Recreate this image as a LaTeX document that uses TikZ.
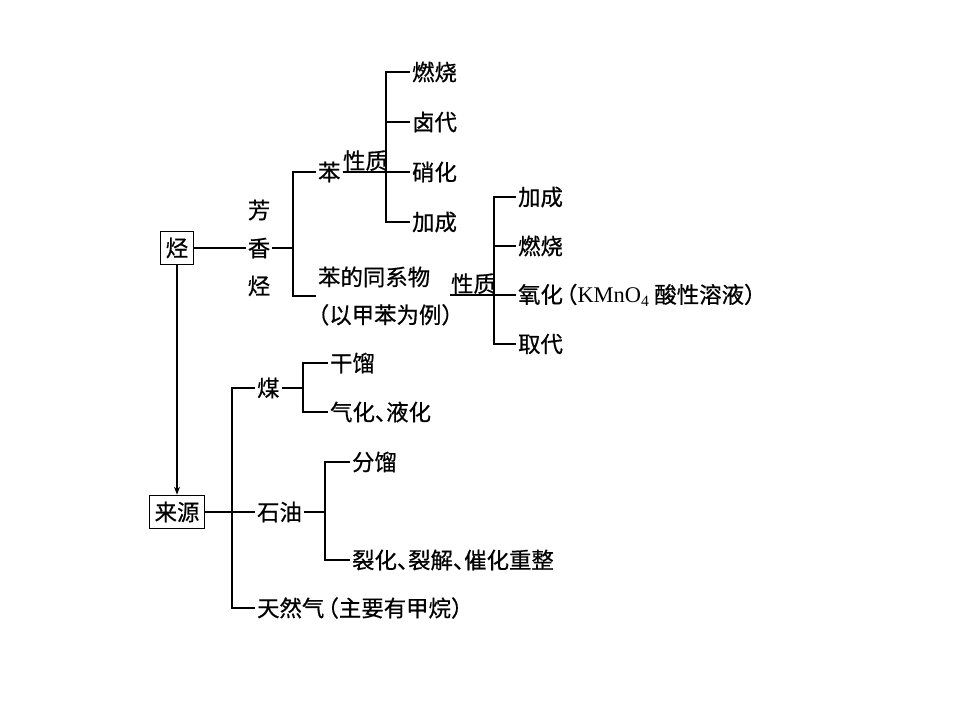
\documentclass[tikz,border=0pt]{standalone}
\usepackage{fontspec}
\setmainfont{Liberation Serif}
\newfontfamily\cjk[FakeBold=0.6]{Noto Sans CJK SC}
\newcommand\dunhao{、\hspace{-0.5em}}
\newcommand\lpar{\hspace{-0.35em}（}
\newcommand\rpar{）}
\usetikzlibrary{arrows.meta}
\begin{document}
\begin{tikzpicture}[x=1bp,y=-1bp,line width=1.2bp,
  every node/.style={font=\cjk\fontsize{22.5}{26}\selectfont, inner sep=1.5bp},
  lf/.style={anchor=west},
  lbl/.style={anchor=south west, inner sep=0.5bp},
  twoline/.style={anchor=west, align=left, font=\cjk\fontsize{22.5}{38}\selectfont},
  boxed/.style={draw, inner xsep=5bp, inner ysep=6.5bp, line width=1bp}]
\useasboundingbox (0,0) rectangle (960,720);
% top part
\node[boxed] (hc) at (177,248) {烃};
\node[align=center, font=\cjk\fontsize{22.5}{38}\selectfont] (fx) at (259,248) {芳\\香\\烃};
\coordinate (b1) at (293,248);
\node[lf] (ben) at (316,172) {苯};
\node[lbl] (xz1) at (342,172) {性质};
\coordinate (b2) at (386,172);
\node[lf] (r1) at (410,72) {燃烧};
\node[lf] (r2) at (410,122) {卤代};
\node[lf] (r3) at (410,172) {硝化};
\node[lf] (r4) at (410,222) {加成};
\node[twoline] (tx) at (316,296) {苯的同系物\\\hspace*{-0.5em}（以甲苯为例）};
\node[lbl] (xz2) at (450,295) {性质};
\coordinate (b3) at (494,295);
\node[lf] (s1) at (516,197) {加成};
\node[lf] (s2) at (516,246) {燃烧};
\node[lf] (s3) at (516,295) {氧化\lpar{\rmfamily KMnO\textsubscript{4}} 酸性溶液\rpar};
\node[lf] (s4) at (516,344) {取代};
% bottom part
\node[boxed] (ly) at (177,512) {来源};
\coordinate (b4) at (232,512);
\node[lf] (mei) at (255,388) {煤};
\coordinate (b5) at (303,388);
\node[lf] (g1) at (328,363) {干馏};
\node[lf] (g2) at (328,412) {气化\dunhao 液化};
\node[lf] (sy) at (255,512) {石油};
\coordinate (b6) at (325,512);
\node[lf] (f1) at (350,462) {分馏};
\node[lf] (f2) at (350,560) {裂化\dunhao 裂解\dunhao 催化重整};
\node[lf] (tr) at (255,608) {天然气\lpar 主要有甲烷\rpar};
% connectors
\draw (hc.east) -- (fx.west);
\draw (fx.east) -- (b1);
\draw (ben.west) -| (b1) |- (tx.west);
\draw (ben.east) -- (b2);
\draw (r1.west) -| (b2) |- (r4.west);
\draw (b2 |- r2.west) -- (r2.west);
\draw (b2) -- (r3.west);
\draw (xz2.south west) -- (s3.west);
\draw (s1.west) -| (b3) |- (s4.west);
\draw (b3 |- s2.west) -- (s2.west);
\draw[-{Stealth[length=8bp,width=6bp]}] (hc.south) -- (ly.north);
\draw (ly.east) -- (sy.west);
\draw (mei.west) -| (b4) |- (tr.west);
\draw (mei.east) -- (b5);
\draw (g1.west) -| (b5) |- (g2.west);
\draw (sy.east) -- (b6);
\draw (f1.west) -| (b6) |- (f2.west);
\end{tikzpicture}
\end{document}
